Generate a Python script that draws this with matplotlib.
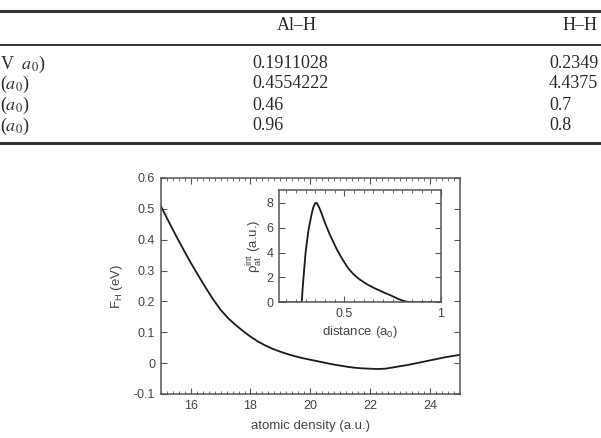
import matplotlib
matplotlib.use("Agg")
import matplotlib.pyplot as plt
from matplotlib.lines import Line2D
from matplotlib.ticker import MultipleLocator

# ---- data ----
density = [15.0, 15.25, 15.5, 15.75, 16.0, 16.25, 16.5, 16.75, 17.0, 17.25,
           17.5, 17.75, 18.0, 18.25, 18.5, 18.75, 19.0, 19.25, 19.5, 19.75,
           20.0, 20.25, 20.5, 20.75, 21.0, 21.25, 21.5, 21.75, 22.0, 22.25,
           22.5, 22.75, 23.0, 23.25, 23.5, 23.75, 24.0, 24.25, 24.5, 24.75, 25.0]
f_h = [0.510, 0.462, 0.415, 0.370, 0.326, 0.285, 0.245, 0.207, 0.173, 0.146,
       0.124, 0.104, 0.086, 0.070, 0.057, 0.046, 0.037, 0.029, 0.022, 0.016,
       0.011, 0.006, 0.001, -0.004, -0.008, -0.012, -0.015, -0.017, -0.018, -0.019,
       -0.018, -0.014, -0.010, -0.006, -0.001, 0.004, 0.009, 0.014, 0.019, 0.023, 0.027]

distance = [0.164, 0.22, 0.28, 0.285, 0.293, 0.300, 0.309, 0.316, 0.323, 0.330,
            0.337, 0.344, 0.352, 0.359, 0.366, 0.375, 0.383, 0.395, 0.409, 0.425,
            0.443, 0.460, 0.478, 0.500, 0.521, 0.545, 0.572, 0.600, 0.624, 0.650,
            0.676, 0.700, 0.728, 0.755, 0.779, 0.800, 0.823, 0.849, 0.92, 1.0]
rho_int = [0, 0, 0, 1.2, 2.72, 4.0, 5.12, 5.9, 6.45, 7.0,
           7.47, 7.8, 8.0, 7.95, 7.75, 7.45, 7.12, 6.6, 6.05, 5.45,
           4.85, 4.3, 3.79, 3.22, 2.72, 2.3, 1.92, 1.62, 1.39, 1.18,
           0.99, 0.82, 0.64, 0.45, 0.27, 0.14, 0.05, 0, 0, 0]

table_cols = ["Al\u2013H", "H\u2013H"]
table_rows = ["V  $a_0$)", "($a_0$)", "($a_0$)", "($a_0$)"]
table_alh = ["0.1911028", "0.4554222", "0.46", "0.96"]
table_hh = ["0.2349", "4.4375", "0.7", "0.8"]

# ---- figure ----
W, H = 601, 438
fig = plt.figure(figsize=(W / 100, H / 100), dpi=100)
fig.patch.set_facecolor("white")

def fx(px):
    return px / W

def fy(py):
    return 1 - py / H

# table rules
for y, lw in [(10.5, 2.2), (45, 1.4), (143, 2.2)]:
    fig.add_artist(Line2D([0, 1], [fy(y), fy(y)], transform=fig.transFigure,
                          color="#333333", lw=lw))

serif = dict(family="Liberation Serif", fontsize=13, color="#2a2a2a",
             math_fontfamily="stix", va="center")
fig.text(fx(297), fy(25), table_cols[0], ha="center", **serif)
fig.text(fx(580), fy(25), table_cols[1], ha="center", **serif)
row_y = [64, 84, 105, 126]
for ry, lab, a, b in zip(row_y, table_rows, table_alh, table_hh):
    fig.text(fx(0.5), fy(ry), lab, ha="left", **serif)
    fig.text(fx(252), fy(ry), a, ha="left", **serif)
    fig.text(fx(549), fy(ry), b, ha="left", **serif)

sans = "Liberation Sans"
gray = "#555555"
txt = "#444444"

def style(ax):
    for s in ax.spines.values():
        s.set_color(gray)
        s.set_linewidth(1.1)
    ax.tick_params(which="both", direction="in", top=True, right=True,
                   colors=gray, labelcolor=txt, labelsize=9)
    ax.tick_params(which="major", length=4, width=0.8, pad=4)
    ax.tick_params(which="minor", length=2, width=0.6)
    for lbl in ax.get_xticklabels() + ax.get_yticklabels():
        lbl.set_family(sans)

# main axes
ax = fig.add_axes([fx(160.7), fy(394), fx(460) - fx(160.7), fy(178) - fy(394)])
ax.plot(density, f_h, color="#1a1a1a", lw=1.3)
ax.set_xlim(15, 25)
ax.set_ylim(-0.1, 0.6)
ax.xaxis.set_minor_locator(MultipleLocator(0.2))
ax.set_xticks([16, 18, 20, 22, 24])
ax.set_yticks([-0.1, 0, 0.1, 0.2, 0.3, 0.4, 0.5, 0.6])
ax.set_yticklabels(["-0.1", "0", "0.1", "0.2", "0.3", "0.4", "0.5", "0.6"])
style(ax)
ax.set_xlabel("atomic density (a.u.)", family=sans, fontsize=9.5, color=txt, labelpad=6)
ax.set_ylabel("F$_\\mathregular{H}$ (eV)", family=sans, fontsize=9.5, color=txt, labelpad=6)

# inset
ins = fig.add_axes([fx(279.3), fy(302.3), fx(441) - fx(279.3), fy(190.3) - fy(302.3)])
ins.plot(distance, rho_int, color="#1a1a1a", lw=1.3)
ins.set_xlim(0.164, 1.0)
ins.set_ylim(0, 9)
ins.set_xticks([0.5, 1.0])
ins.set_xticklabels(["0.5", "1"])
ins.xaxis.set_minor_locator(MultipleLocator(0.05))
ins.set_yticks([0, 2, 4, 6, 8])
style(ins)
ins.set_xlabel("distance (a$_\\mathregular{0}$)", family=sans, fontsize=9.5,
               color=txt, labelpad=3)
ins.set_ylabel("\u03c1$_\\mathregular{at}^\\mathregular{int}$ (a.u.)", family=sans,
               fontsize=9.5, color=txt, labelpad=1)

fig.savefig("out.png", dpi=100, facecolor="white")
